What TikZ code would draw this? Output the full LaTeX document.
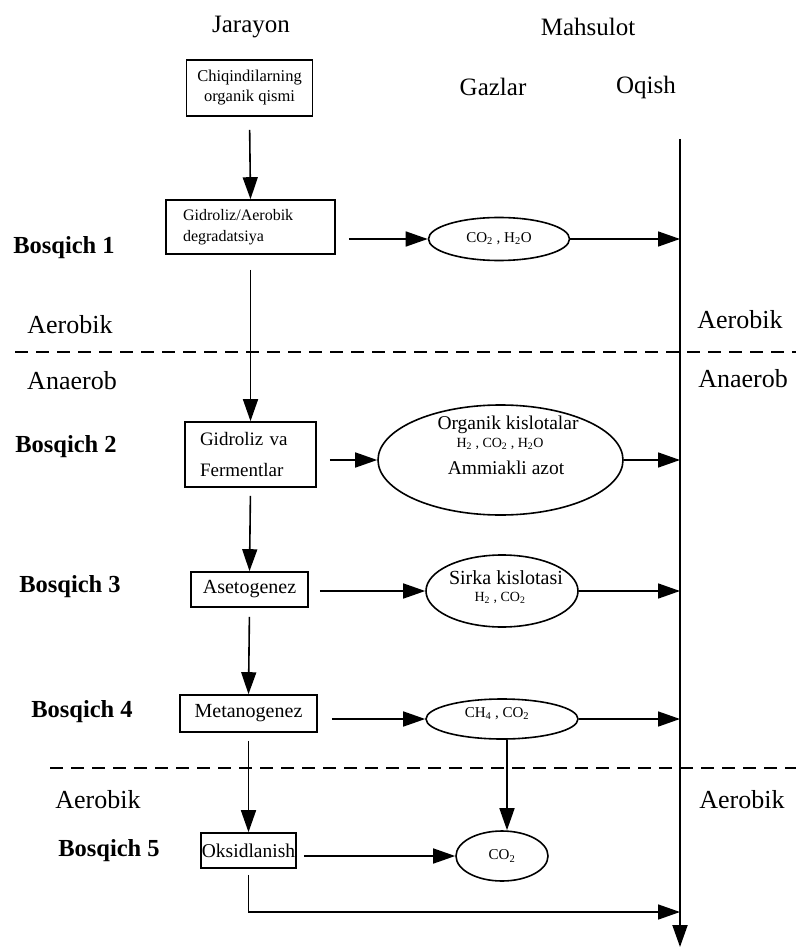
\documentclass[tikz,border=0pt]{standalone}
\usepackage{fontspec}
\setmainfont{Liberation Serif}
\usetikzlibrary{arrows.meta,shapes.geometric,calc}
\begin{document}
\begin{tikzpicture}[x=1pt,y=-1pt,
  lw/.style={line width=1.6pt},
  arr/.style={lw,-{Triangle[length=22pt,width=15pt]}},
  box/.style={draw,lw,rectangle,inner sep=0pt},
  ell/.style={draw,lw,ellipse,inner sep=0pt},
  hd/.style={font=\fontsize{25}{30}\selectfont},
  bq/.style={font=\fontsize{24.5}{30}\selectfont\bfseries},
  zone/.style={font=\fontsize{26}{30}\selectfont},
  sep/.style={line width=1.4pt,dash pattern=on 13pt off 8pt},
  gas/.style={font=\fontsize{15}{18}\selectfont},
  big/.style={font=\fontsize{19.5}{22}\selectfont},
]
\useasboundingbox (0,0) rectangle (801,949);

% headings
\node[hd] (jar) at (251,27) {Jarayon};
\node[hd] (mah) at (588,27) {Mahsulot};
\node[hd] (gaz) at (493,87) {Gazlar};
\node[hd] (oqi) at (646,87) {Oqish};

% main outflow line
\coordinate (top) at (680,139);
\coordinate (bot) at (680,947);
\draw[line width=2pt,-{Triangle[length=22pt,width=15pt]}] (top) -- (bot);

% zone separators
\coordinate (d1a) at (15,352);
\coordinate (d1b) at (796,352);
\coordinate (d2a) at (50,768);
\coordinate (d2b) at (796,768);
\draw[sep] (d1a) -- (d1b);
\draw[sep] (d2a) -- (d2b);

\node[zone] (zl1) at (70,325) {Aerobik};
\node[zone] (zl2) at (72,381) {Anaerob};
\node[zone] (zr1) at (740,320) {Aerobik};
\node[zone] (zr2) at (743,379) {Anaerob};
\node[zone] (zl3) at (98,800) {Aerobik};
\node[zone] (zr3) at (742,800) {Aerobik};

% stage labels
\node[bq] (s1) at (64,248) {Bosqich 1};
\node[bq] (s2) at (66,447) {Bosqich 2};
\node[bq] (s3) at (70,587) {Bosqich 3};
\node[bq] (s4) at (82,712) {Bosqich 4};
\node[bq] (s5) at (109,851) {Bosqich 5};

% process boxes
\node[box,minimum width=126pt,minimum height=56pt,align=center,
      font=\fontsize{16.5}{20}\selectfont] (b1) at (249.5,88) {Chiqindilarning\\organik qismi};
\node[box,minimum width=169pt,minimum height=54pt,text width=135pt,align=left,
      font=\fontsize{16}{21}\selectfont] (b2) at (250.5,227) {Gidroliz/Aerobik\\degradatsiya};
\node[box,minimum width=131pt,minimum height=65pt,text width=101pt,align=left,
      font=\fontsize{19}{31}\selectfont] (b3) at (250.5,454.5) {Gidroliz va\\Fermentlar};
\node[box,minimum width=117pt,minimum height=35pt,
      font=\fontsize{20}{24}\selectfont] (b4) at (249.5,589.5) {Asetogenez};
\node[box,minimum width=137pt,minimum height=37pt,
      font=\fontsize{20}{24}\selectfont] (b5) at (248.5,713.5) {Metanogenez};
\node[box,minimum width=95pt,minimum height=35pt,
      font=\fontsize{19.5}{24}\selectfont] (b6) at (248.5,850.5) {Oksidlanish};

% gas ellipses
\node[ell,gas,minimum width=141pt,minimum height=43pt] (e1) at (499,239)
  {CO\textsubscript{2} , H\textsubscript{2}O};
\node[ell,minimum width=245pt,minimum height=110pt] (e2) at (500.5,460) {};
\node[big,anchor=base] (e2a) at (508,429) {Organik kislotalar};
\node[font=\fontsize{14}{16}\selectfont,anchor=base] (e2b) at (500,447)
  {H\textsubscript{2} , CO\textsubscript{2} , H\textsubscript{2}O};
\node[big,anchor=base] (e2c) at (506,474) {Ammiakli azot};
\node[ell,minimum width=152pt,minimum height=72pt] (e3) at (502,591) {};
\node[font=\fontsize{20}{22}\selectfont,anchor=base] (e3a) at (506,584) {Sirka kislotasi};
\node[font=\fontsize{14}{16}\selectfont,anchor=base] (e3b) at (500,601)
  {H\textsubscript{2} , CO\textsubscript{2}};
\node[ell,gas,minimum width=152pt,minimum height=40pt] (e4) at (502,719) {};
\node[gas,anchor=base] (e4a) at (497,717) {CH\textsubscript{4} , CO\textsubscript{2}};
\node[ell,gas,minimum width=92pt,minimum height=50pt] (e5) at (502,856) {CO\textsubscript{2}};

% flows down
\draw[arr,shorten <=13pt] (b1.south) -- (b2.north);
\draw[arr,shorten <=15pt] (b2.south) -- (b3.north);
\draw[arr,shorten <=8pt] (b3.south) -- (b4.north);
\draw[arr,shorten <=9pt] (b4.south) -- (b5.north);
\draw[arr,shorten <=8pt] (b5.south) -- (b6.north);
\coordinate (e4s) at ($(e4.south)+(5,0)$);
\draw[arr] (e4s) -- (e4s |- e5.north);

% flows right to gases
\draw[arr,shorten <=13pt] (b2.east |- e1.west) -- (e1.west);
\draw[arr,shorten <=13pt] (b3.east |- e2.west) -- (e2.west);
\draw[arr,shorten <=11pt] (b4.east |- e3.west) -- (e3.west);
\draw[arr,shorten <=14pt] (b5.east |- e4.west) -- (e4.west);
\draw[arr,shorten <=7pt] (b6.east |- e5.west) -- (e5.west);

% gases to outflow line
\draw[arr] (e1.east) -- (e1.east -| top);
\draw[arr] (e2.east) -- (e2.east -| top);
\draw[arr] (e3.east) -- (e3.east -| top);
\draw[arr] (e4.east) -- (e4.east -| top);
\coordinate (corner) at (248.5,912);
\draw[arr,shorten <=6pt] (b6.south) -- (corner) -- (corner -| top);
\end{tikzpicture}
\end{document}
